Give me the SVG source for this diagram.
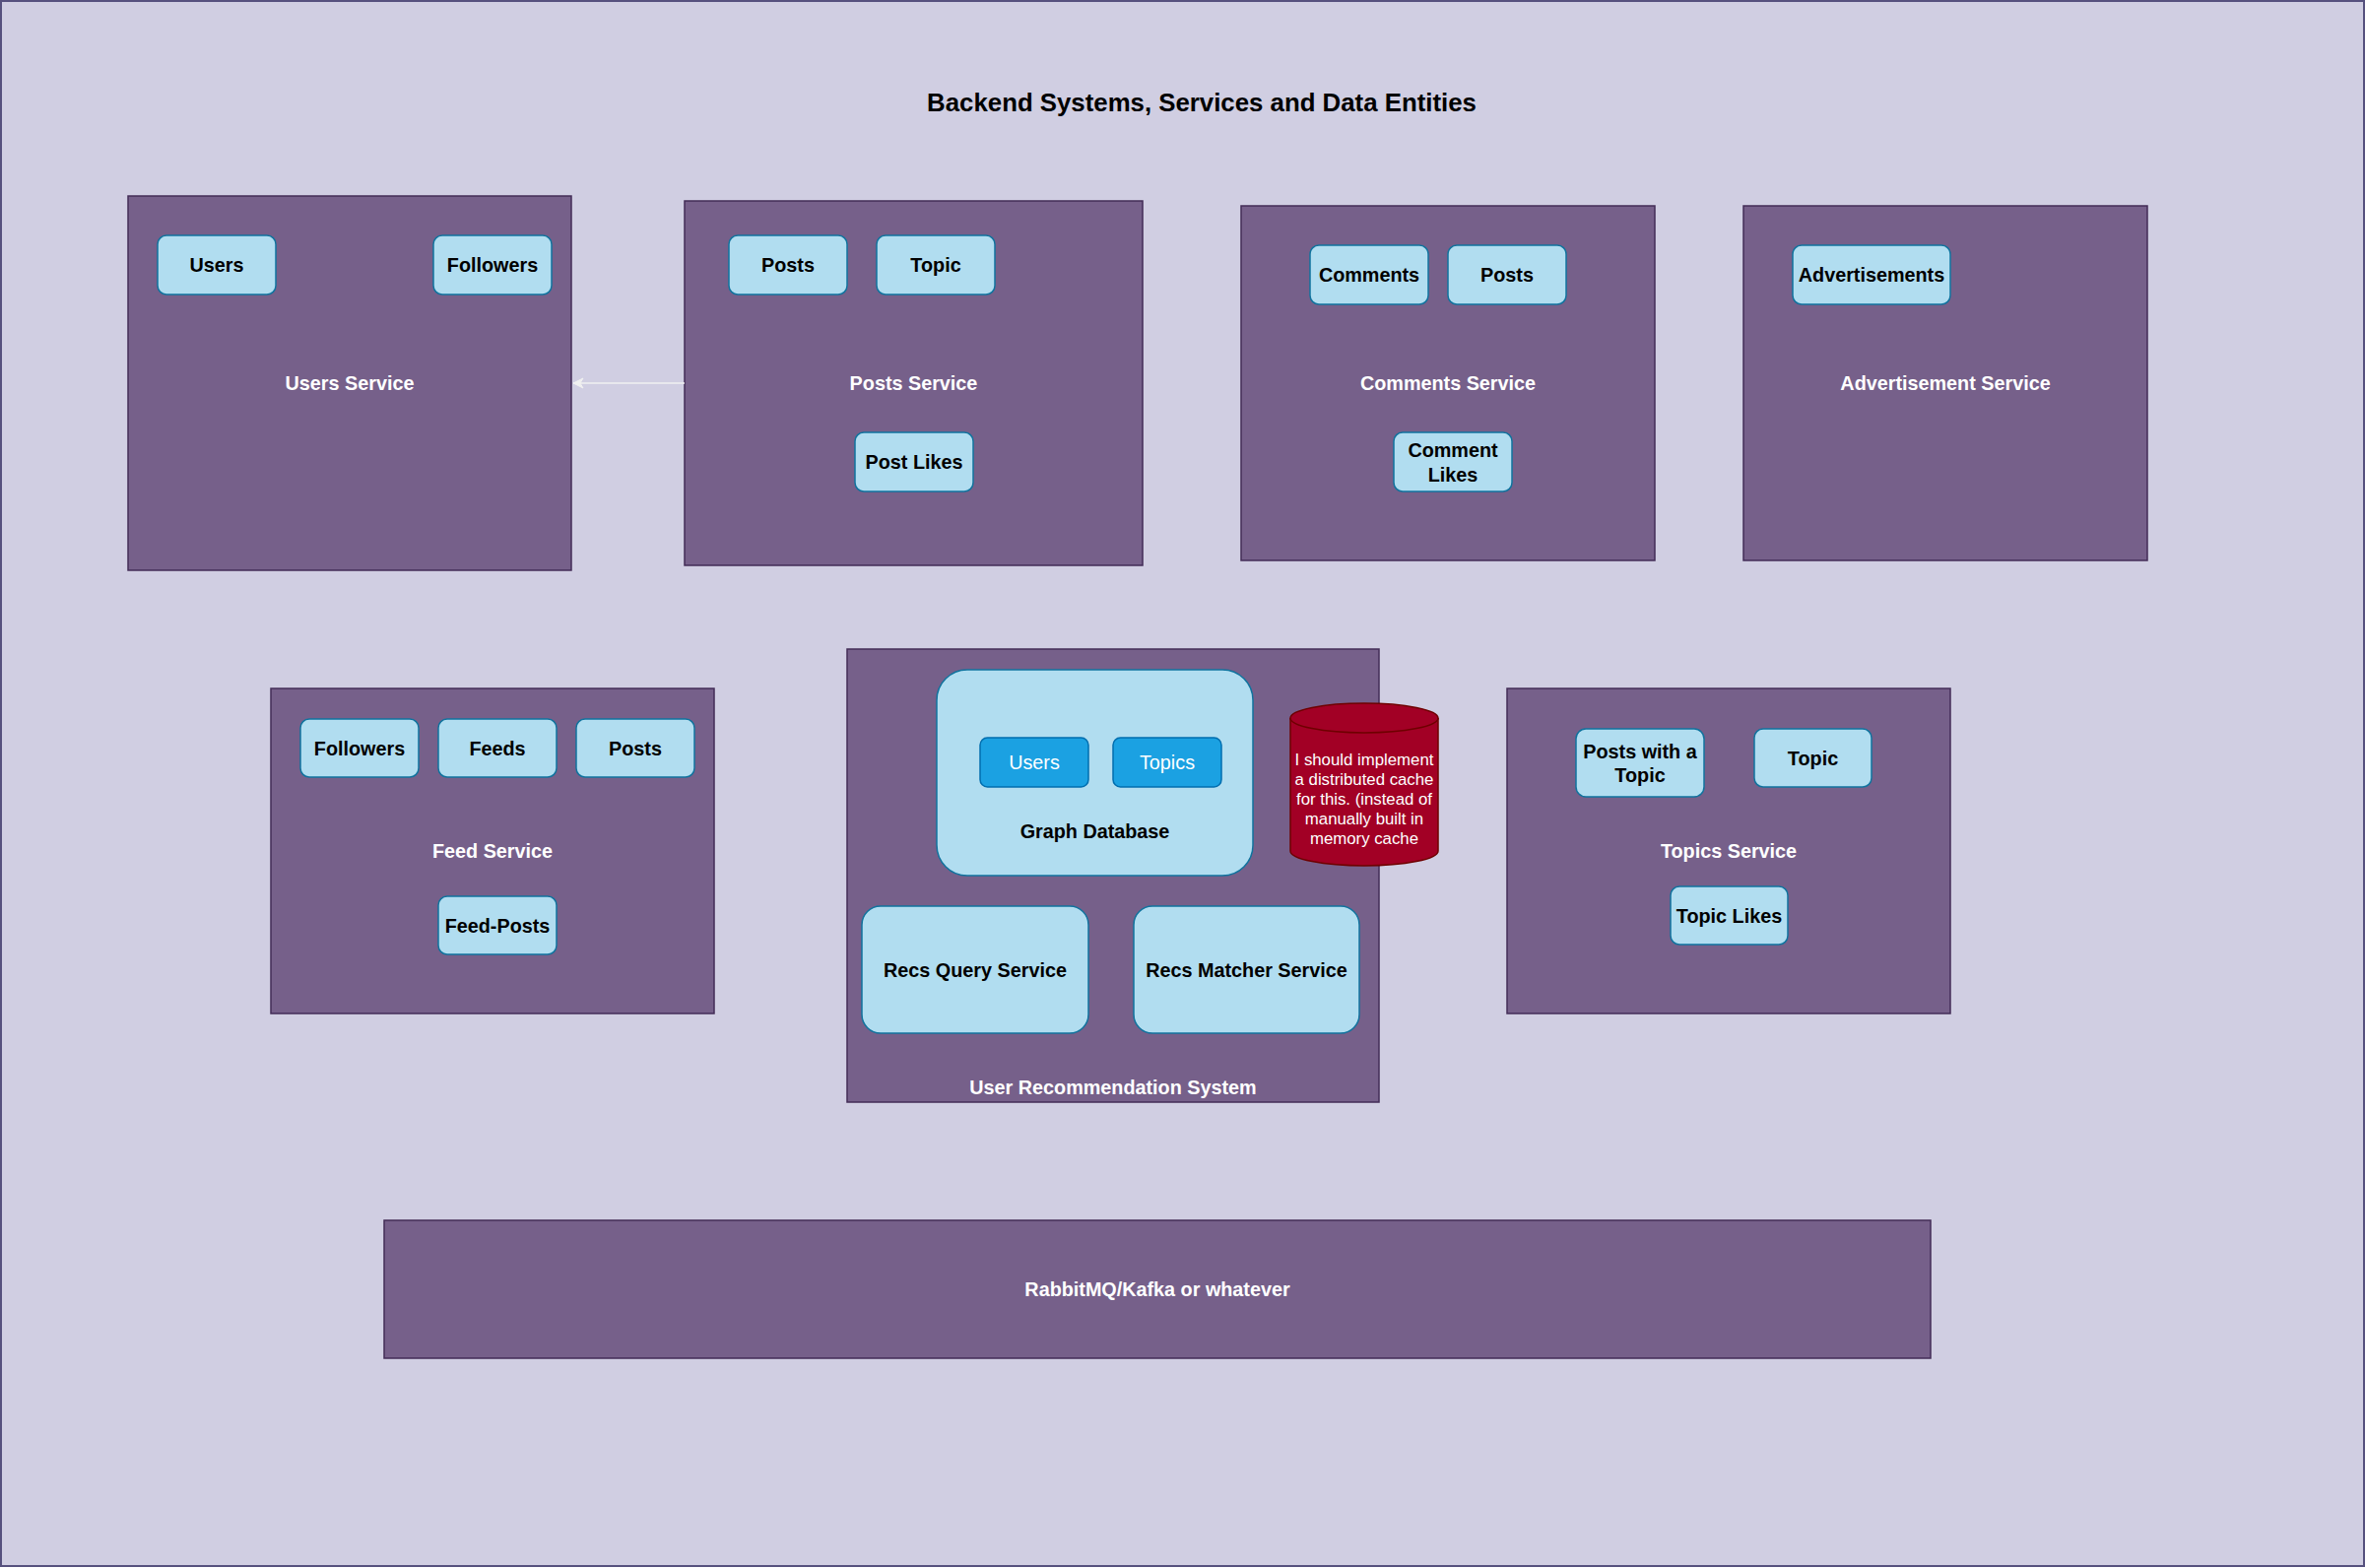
<svg xmlns="http://www.w3.org/2000/svg" width="2401" height="1592" viewBox="0 0 2401 1592">
<style>
  .bg { fill: #D0CEE2; stroke: #56517E; stroke-width: 2; }
  .svc { fill: #76608A; stroke: #432D57; stroke-width: 1.5; }
  .ent { fill: #B1DDF0; stroke: #10739E; stroke-width: 1.5; }
  .blue { fill: #1BA1E2; stroke: #006EAF; stroke-width: 1.5; }
  .cyl { fill: #A20025; stroke: #6F0000; stroke-width: 1.5; }
  text { font-family: "Liberation Sans", Arial, Helvetica, sans-serif; text-anchor: middle; dominant-baseline: central; }
  .title { font-size: 25.8px; font-weight: bold; fill: #000000; }
  .svcl { font-size: 19.8px; font-weight: bold; fill: #FFFFFF; }
  .entl { font-size: 19.8px; font-weight: bold; fill: #000000; }
  .bluel { font-size: 19.8px; fill: #FFFFFF; }
  .cyll { font-size: 16.8px; fill: #FFFFFF; }
  .conn { fill: none; stroke: #F0F0F0; stroke-width: 1.5; }
</style>
<defs>
  <marker id="arrow" viewBox="0 0 12 12" refX="11" refY="6" markerWidth="12" markerHeight="12" markerUnits="userSpaceOnUse" orient="auto">
    <path d="M1,1 L11,6 L1,11 L4,6 Z" fill="#F0F0F0" stroke="#F0F0F0" stroke-width="1"/>
  </marker>
</defs>

<rect class="bg" x="1" y="1" width="2399" height="1589"/>

<text class="title" x="1220" y="104">Backend Systems, Services and Data Entities</text>

<g id="users-service">
  <rect class="svc" x="130" y="199" width="450" height="380"/>
  <text class="svcl" x="355" y="389">Users Service</text>
  <g id="users-service-users">
    <rect class="ent" x="160" y="239" width="120" height="60" rx="9"/>
    <text class="entl" x="220" y="269">Users</text>
  </g>
  <g id="users-service-followers">
    <rect class="ent" x="440" y="239" width="120" height="60" rx="9"/>
    <text class="entl" x="500" y="269">Followers</text>
  </g>
</g>

<g id="posts-service">
  <rect class="svc" x="695" y="204" width="465" height="370"/>
  <text class="svcl" x="927.5" y="389">Posts Service</text>
  <g id="posts-service-posts">
    <rect class="ent" x="740" y="239" width="120" height="60" rx="9"/>
    <text class="entl" x="800" y="269">Posts</text>
  </g>
  <g id="posts-service-topic">
    <rect class="ent" x="890" y="239" width="120" height="60" rx="9"/>
    <text class="entl" x="950" y="269">Topic</text>
  </g>
  <g id="posts-service-likes">
    <rect class="ent" x="868" y="439" width="120" height="60" rx="9"/>
    <text class="entl" x="928" y="469">Post Likes</text>
  </g>
</g>

<g id="comments-service">
  <rect class="svc" x="1260" y="209" width="420" height="360"/>
  <text class="svcl" x="1470" y="389">Comments Service</text>
  <g id="comments-service-comments">
    <rect class="ent" x="1330" y="249" width="120" height="60" rx="9"/>
    <text class="entl" x="1390" y="279">Comments</text>
  </g>
  <g id="comments-service-posts">
    <rect class="ent" x="1470" y="249" width="120" height="60" rx="9"/>
    <text class="entl" x="1530" y="279">Posts</text>
  </g>
  <g id="comments-service-likes">
    <rect class="ent" x="1415" y="439" width="120" height="60" rx="9"/>
    <text class="entl" x="1475" y="457">Comment</text>
    <text class="entl" x="1475" y="481.5">Likes</text>
  </g>
</g>

<g id="advertisement-service">
  <rect class="svc" x="1770" y="209" width="410" height="360"/>
  <text class="svcl" x="1975" y="389">Advertisement Service</text>
  <g id="advertisement-service-ads">
    <rect class="ent" x="1820" y="249" width="160" height="60" rx="9"/>
    <text class="entl" x="1900" y="279">Advertisements</text>
  </g>
</g>

<g id="feed-service">
  <rect class="svc" x="275" y="699" width="450" height="330"/>
  <text class="svcl" x="500" y="864">Feed Service</text>
  <g id="feed-service-followers">
    <rect class="ent" x="305" y="730" width="120" height="59" rx="9"/>
    <text class="entl" x="365" y="759.5">Followers</text>
  </g>
  <g id="feed-service-feeds">
    <rect class="ent" x="445" y="730" width="120" height="59" rx="9"/>
    <text class="entl" x="505" y="759.5">Feeds</text>
  </g>
  <g id="feed-service-posts">
    <rect class="ent" x="585" y="730" width="120" height="59" rx="9"/>
    <text class="entl" x="645" y="759.5">Posts</text>
  </g>
  <g id="feed-service-feedposts">
    <rect class="ent" x="445" y="910" width="120" height="59" rx="9"/>
    <text class="entl" x="505" y="939.5">Feed-Posts</text>
  </g>
</g>

<g id="user-recommendation-system">
  <rect class="svc" x="860" y="659" width="540" height="460"/>
  <text class="svcl" x="1130" y="1104">User Recommendation System</text>
  <g id="graph-database">
    <rect class="ent" x="951" y="680" width="321" height="209" rx="31"/>
    <text class="entl" x="1111.5" y="844">Graph Database</text>
    <g id="graph-users">
      <rect class="blue" x="995" y="749" width="110" height="50" rx="7.5"/>
      <text class="bluel" x="1050" y="774">Users</text>
    </g>
    <g id="graph-topics">
      <rect class="blue" x="1130" y="749" width="110" height="50" rx="7.5"/>
      <text class="bluel" x="1185" y="774">Topics</text>
    </g>
  </g>
  <g id="recs-query-service">
    <rect class="ent" x="875" y="920" width="230" height="129" rx="19"/>
    <text class="entl" x="990" y="984.5">Recs Query Service</text>
  </g>
  <g id="recs-matcher-service">
    <rect class="ent" x="1151" y="920" width="229" height="129" rx="19"/>
    <text class="entl" x="1265.5" y="984.5">Recs Matcher Service</text>
  </g>
</g>

<g id="cache-note">
  <path class="cyl" d="M1310,729 a75,15 0 0,1 150,0 v135 a75,15 0 0,1 -150,0 z"/>
  <path class="cyl" d="M1310,729 a75,15 0 0,0 150,0" fill="none"/>
  <text class="cyll" x="1385" y="771">I should implement</text>
  <text class="cyll" x="1385" y="791">a distributed cache</text>
  <text class="cyll" x="1385" y="811">for this. (instead of</text>
  <text class="cyll" x="1385" y="831.5">manually built in</text>
  <text class="cyll" x="1385" y="851.5">memory cache</text>
</g>

<g id="topics-service">
  <rect class="svc" x="1530" y="699" width="450" height="330"/>
  <text class="svcl" x="1755" y="864">Topics Service</text>
  <g id="topics-service-posts-with-topic">
    <rect class="ent" x="1600" y="740" width="130" height="69" rx="10"/>
    <text class="entl" x="1665" y="762.5">Posts with a</text>
    <text class="entl" x="1665" y="786.5">Topic</text>
  </g>
  <g id="topics-service-topic">
    <rect class="ent" x="1781" y="740" width="119" height="59" rx="9"/>
    <text class="entl" x="1840.5" y="769.5">Topic</text>
  </g>
  <g id="topics-service-likes">
    <rect class="ent" x="1696" y="900" width="119" height="59" rx="9"/>
    <text class="entl" x="1755.5" y="929.5">Topic Likes</text>
  </g>
</g>

<g id="message-queue">
  <rect class="svc" x="390" y="1239" width="1570" height="140"/>
  <text class="svcl" x="1175" y="1309">RabbitMQ/Kafka or whatever</text>
</g>

<g id="connectors">
  <line class="conn" x1="695" y1="389" x2="582" y2="389" marker-end="url(#arrow)"/>
</g>
</svg>
